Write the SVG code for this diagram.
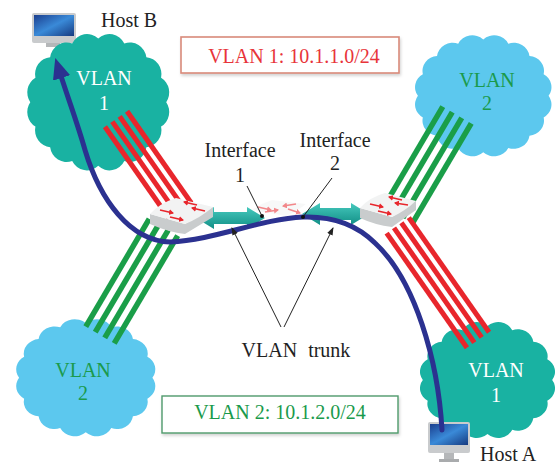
<svg xmlns="http://www.w3.org/2000/svg" width="558" height="466" viewBox="0 0 558 466">
  <style>
    .lbl { font-family: "Liberation Serif", "Times New Roman", serif; font-size: 20px; fill: #222; }
    .mid { text-anchor: middle; }
    .white { fill: #ffffff; }
    .green { fill: #1a9a4c; }
    .red { fill: #e8343a; }
    .redline { stroke: #e8262c; stroke-width: 5; fill: none; }
    .greenline { stroke: #1a9e48; stroke-width: 5.5; fill: none; }
    .lead { stroke: #222; stroke-width: 1; fill: none; }
    .sw-top { fill: #f2f3f3; }
    .sw-side { fill: #c9cccd; }
    .sw-arrow { stroke: #e8262c; stroke-width: 1.6; fill: none; marker-end: url(#tinyRed); }
    .trunk { fill: url(#tealGrad); }
  </style>
  <defs>
    <!-- scalloped cloud outline, roughly 150 x 140 -->
    <path id="cloud" d="M141,70 A16,16 0 0 1 136,93 A16,16 0 0 1 121.7,112.4 A16,16 0 0 1 100.3,125.4 A16,16 0 0 1 75,130 A16,16 0 0 1 49.7,125.4 A16,16 0 0 1 28.3,112.4 A16,16 0 0 1 14,93 A16,16 0 0 1 9,70 A16,16 0 0 1 14,47 A16,16 0 0 1 28.3,27.6 A16,16 0 0 1 49.7,14.6 A16,16 0 0 1 75,10 A16,16 0 0 1 100.3,14.6 A16,16 0 0 1 121.7,27.6 A16,16 0 0 1 136,47 A16,16 0 0 1 141,70 Z"/>
    <linearGradient id="tealGrad" x1="0" y1="0" x2="0" y2="1">
      <stop offset="0" stop-color="#46c9bd"/>
      <stop offset="1" stop-color="#128f86"/>
    </linearGradient>
    <linearGradient id="screenGrad" x1="0" y1="0" x2="1" y2="1">
      <stop offset="0" stop-color="#1b3f8f"/>
      <stop offset="0.5" stop-color="#3a8ad8"/>
      <stop offset="1" stop-color="#163a80"/>
    </linearGradient>
    <marker id="tinyRed" markerUnits="userSpaceOnUse" markerWidth="6" markerHeight="6" refX="4" refY="3" orient="auto">
      <path d="M0,0 L5,3 L0,6 Z" fill="#e8262c"/>
    </marker>
    <marker id="blueHead" markerUnits="userSpaceOnUse" markerWidth="22" markerHeight="18" refX="2" refY="9" orient="auto">
      <path d="M0,0 L21,9 L0,18 Z" fill="#2b3190"/>
    </marker>
    <marker id="blackHead" markerUnits="userSpaceOnUse" markerWidth="8" markerHeight="8" refX="7" refY="4" orient="auto">
      <path d="M0,1 L8,4 L0,7 Z" fill="#222"/>
    </marker>
    <filter id="boxShadow" x="-5%" y="-20%" width="110%" height="150%">
      <feDropShadow dx="1" dy="2" stdDeviation="1.5" flood-color="#000" flood-opacity="0.18"/>
    </filter>
  </defs>

  <rect width="558" height="466" fill="#ffffff"/>

  <!-- Host B workstation -->
  <g id="host-b">
    <rect x="32" y="13" width="44" height="30" rx="2" fill="#c9cbcd"/>
    <rect x="34" y="15" width="40" height="21" fill="url(#screenGrad)"/>
    <rect x="46" y="43" width="14" height="4" fill="#b5b7b9"/>
    <text class="lbl" x="101" y="27">Host B</text>
  </g>

  <!-- VLAN clouds -->
  <g id="cloud-vlan1-top">
    <use href="#cloud" fill="#19b2a2" transform="translate(21,28) scale(1.03,1.06)"/>
    <text class="lbl mid white" x="104" y="85">VLAN</text>
    <text class="lbl mid white" x="104" y="110">1</text>
  </g>
  <g id="cloud-vlan2-top">
    <use href="#cloud" fill="#5cc8ee" transform="translate(409,30) scale(0.99,0.94)"/>
    <text class="lbl mid green" x="487" y="87">VLAN</text>
    <text class="lbl mid green" x="487" y="110">2</text>
  </g>
  <g id="cloud-vlan2-bottom">
    <use href="#cloud" fill="#5cc8ee" transform="translate(10,314) scale(1.01,0.91)"/>
    <text class="lbl mid green" x="83" y="377">VLAN</text>
    <text class="lbl mid green" x="83" y="400">2</text>
  </g>
  <g id="cloud-vlan1-bottom">
    <use href="#cloud" fill="#19b2a2" transform="translate(414,317) scale(0.98,0.9)"/>
    <text class="lbl mid white" x="496" y="377">VLAN</text>
    <text class="lbl mid white" x="496" y="402">1</text>
  </g>

  <!-- Host A workstation -->
  <g id="host-a">
    <rect x="428" y="422" width="42" height="31" rx="2" fill="#c9cbcd"/>
    <rect x="430" y="424" width="38" height="21" fill="url(#screenGrad)"/>
    <rect x="444" y="453" width="10" height="6" fill="#b5b7b9"/>
    <rect x="439" y="459" width="20" height="3" fill="#a9abad"/>
    <text class="lbl" x="480" y="461">Host A</text>
  </g>

  <!-- Subnet boxes -->
  <g id="subnet-vlan1">
    <rect x="181" y="37" width="218" height="36" fill="#ffffff" stroke="#d98a7a" stroke-width="1.6" filter="url(#boxShadow)"/>
    <text class="lbl mid red" x="294" y="63">VLAN 1: 10.1.1.0/24</text>
  </g>
  <g id="subnet-vlan2">
    <rect x="162" y="396" width="236" height="37" fill="#ffffff" stroke="#4f9a6c" stroke-width="1.4" filter="url(#boxShadow)"/>
    <text class="lbl mid green" x="280" y="419">VLAN 2: 10.1.2.0/24</text>
  </g>

  <!-- Access links: bundles of four port lines per VLAN -->
  <g id="connectors">
    <g id="links-left-vlan1" transform="translate(116,119) rotate(55)">
      <line class="redline" x1="0" y1="-13.5" x2="112" y2="-13.5"/>
      <line class="redline" x1="0" y1="-4.5" x2="112" y2="-4.5"/>
      <line class="redline" x1="0" y1="4.5" x2="112" y2="4.5"/>
      <line class="redline" x1="0" y1="13.5" x2="112" y2="13.5"/>
    </g>
    <g id="links-left-vlan2" transform="translate(100,335) rotate(-59.5)">
      <line class="greenline" x1="0" y1="-16.5" x2="125" y2="-16.5"/>
      <line class="greenline" x1="0" y1="-5.5" x2="125" y2="-5.5"/>
      <line class="greenline" x1="0" y1="5.5" x2="125" y2="5.5"/>
      <line class="greenline" x1="0" y1="16.5" x2="125" y2="16.5"/>
    </g>
    <g id="links-right-vlan2" transform="translate(457,115) rotate(120.5)">
      <line class="greenline" x1="0" y1="-16.5" x2="116" y2="-16.5"/>
      <line class="greenline" x1="0" y1="-5.5" x2="116" y2="-5.5"/>
      <line class="greenline" x1="0" y1="5.5" x2="116" y2="5.5"/>
      <line class="greenline" x1="0" y1="16.5" x2="116" y2="16.5"/>
    </g>
    <g id="links-right-vlan1" transform="translate(478,340) rotate(235)">
      <line class="redline" x1="0" y1="-13.5" x2="140" y2="-13.5"/>
      <line class="redline" x1="0" y1="-4.5" x2="140" y2="-4.5"/>
      <line class="redline" x1="0" y1="4.5" x2="140" y2="4.5"/>
      <line class="redline" x1="0" y1="13.5" x2="140" y2="13.5"/>
    </g>

    <!-- trunk arrows between the switches -->
    <path class="trunk" d="M196,218 L214,207 L214,212 L247,212 L247,207 L265,218 L247,229 L247,224 L214,224 L214,229 Z"/>
    <path class="trunk" d="M302,214 L320,203 L320,208 L351,208 L351,203 L369,214 L351,225 L351,220 L320,220 L320,225 Z"/>
  </g>

  <!-- Switches -->
  <g id="switch-left">
    <path class="sw-side" d="M150,214 L185,224 L185,234 Q168,232 150,224 Z"/>
    <path class="sw-side" d="M185,224 L213,207 L213,217 L185,234 Z" fill="#dadcdc"/>
    <path class="sw-top" d="M150,214 Q160,203 176,198 L213,207 Q200,218 185,224 Z"/>
    <path class="sw-arrow" d="M160,210 L173,213"/>
    <path class="sw-arrow" d="M197,205 L184,202"/>
    <path class="sw-arrow" d="M170,217 L183,220"/>
    <path class="sw-arrow" d="M205,211 L192,208"/>
  </g>
  <g id="switch-middle" opacity="0.55">
    <path class="sw-top" d="M252,210 Q262,203 272,200 L306,204 Q296,212 286,216 Z"/>
    <path class="sw-arrow" d="M258,207 L271,210"/>
    <path class="sw-arrow" d="M296,204 L283,206"/>
    <path class="sw-arrow" d="M265,212 L278,210"/>
    <path class="sw-arrow" d="M288,209 L300,213"/>
  </g>
  <g id="switch-right">
    <path class="sw-side" d="M360,208 L392,217 L392,227 Q375,225 360,218 Z"/>
    <path class="sw-side" d="M392,217 L416,201 L416,210 L392,227 Z" fill="#dadcdc"/>
    <path class="sw-top" d="M360,208 Q370,197 385,193 L416,201 Q405,211 392,217 Z"/>
    <path class="sw-arrow" d="M370,204 L383,207"/>
    <path class="sw-arrow" d="M402,200 L389,197"/>
    <path class="sw-arrow" d="M378,211 L391,214"/>
    <path class="sw-arrow" d="M408,205 L395,203"/>
  </g>

  <!-- Packet path from Host A to Host B -->
  <path id="packet-path" d="M442,430 C438,360 415,280 375,243 C358,226 335,216 303,217 C260,219 215,240 170,242 C130,241 100,200 85,150 C78,125 68,98 61,76" fill="none" stroke="#2b3190" stroke-width="5" stroke-linecap="round" marker-end="url(#blueHead)"/>

  <!-- Interface and trunk annotations -->
  <g id="interface-1">
    <text class="lbl mid" x="240" y="157">Interface</text>
    <text class="lbl mid" x="240" y="182">1</text>
    <line class="lead" x1="247" y1="186" x2="262" y2="216"/>
    <circle cx="262" cy="216" r="2" fill="#111"/>
  </g>
  <g id="interface-2">
    <text class="lbl mid" x="335" y="147">Interface</text>
    <text class="lbl mid" x="335" y="170">2</text>
    <line class="lead" x1="332" y1="178" x2="303" y2="217"/>
    <circle cx="303" cy="217" r="2" fill="#111"/>
  </g>
  <g id="vlan-trunk">
    <text class="lbl mid" x="296" y="357" word-spacing="6">VLAN trunk</text>
    <line class="lead" x1="281" y1="327" x2="232" y2="228" marker-end="url(#blackHead)"/>
    <line class="lead" x1="284" y1="327" x2="333" y2="228" marker-end="url(#blackHead)"/>
  </g>
</svg>
